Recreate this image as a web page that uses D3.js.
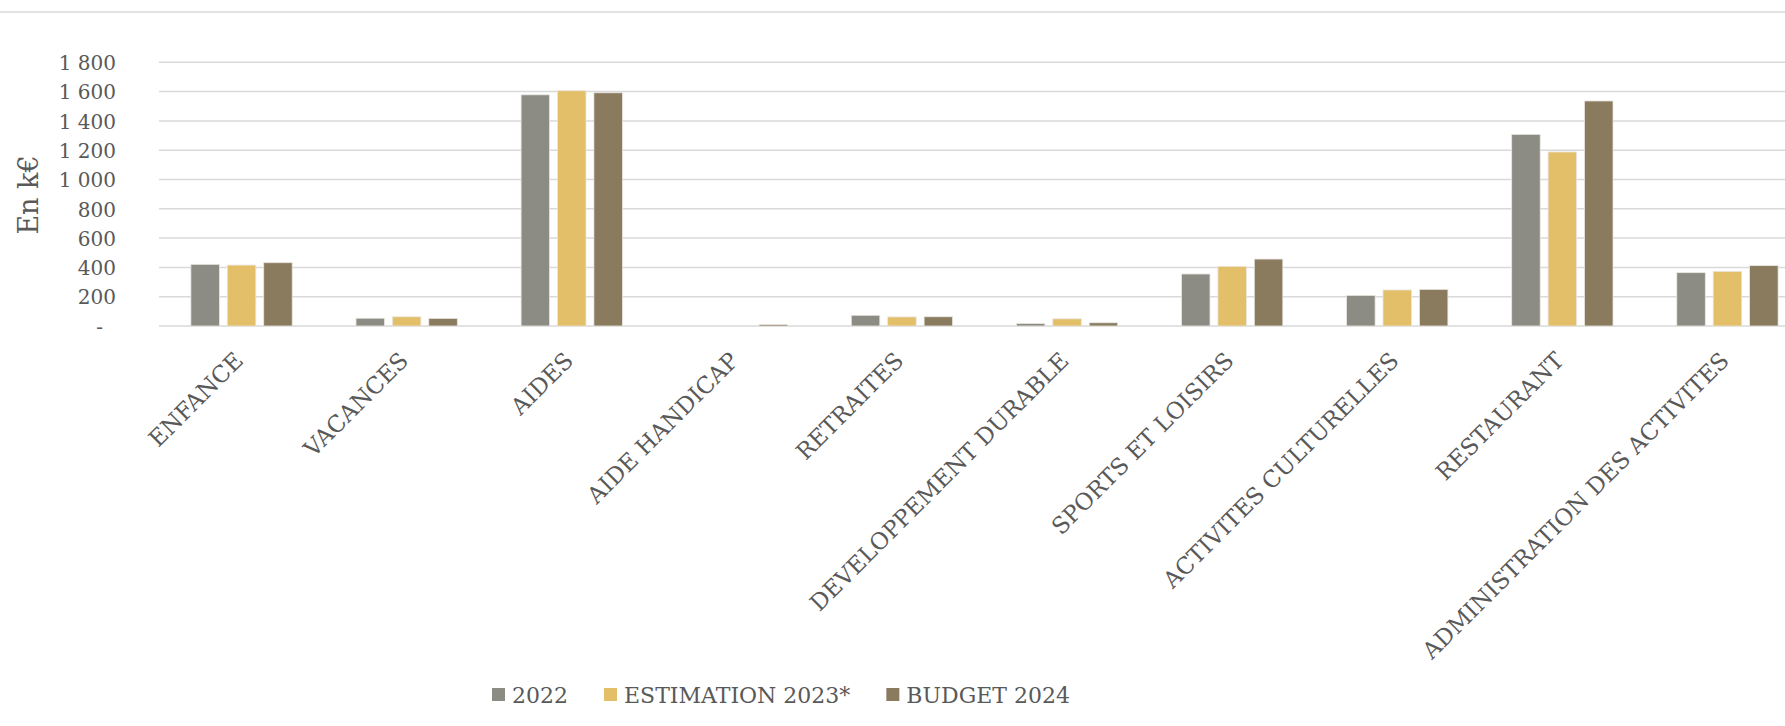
<!DOCTYPE html>
<html><head><meta charset="utf-8">
<script src="https://cdn.jsdelivr.net/npm/d3@7"></script>
<style>
html,body{margin:0;padding:0;background:#fff;overflow:hidden;}
text{font-family:"DejaVu Serif",serif;fill:#595959;}
</style></head>
<body>
<svg id="chart" width="1785" height="726"></svg>
<script>
const categories = ["ENFANCE","VACANCES","AIDES","AIDE HANDICAP","RETRAITES","DEVELOPPEMENT DURABLE","SPORTS ET LOISIRS","ACTIVITES CULTURELLES","RESTAURANT","ADMINISTRATION DES ACTIVITES"];
const seriesNames = ["2022","ESTIMATION 2023*","BUDGET 2024"];
const values2022 = [421, 53, 1578, 0, 73, 17, 355, 209, 1308, 364];
const valuesEst2023 = [416, 63, 1606, 0, 62, 49, 407, 246, 1188, 373];
const valuesBudget2024 = [432, 52, 1592, 10, 63, 22, 457, 250, 1536, 412];
const yTicks = [0,200,400,600,800,1000,1200,1400,1600,1800];
const colors = ["#8c8c84","#e4bf6a","#8a7b5f"];
const yAxisTitle = "En k€";

(function(){
const svg = d3.select("#chart");
const W = 1785;
const pLeft = 159, pRight = 1810, pTop = 62.3, pBottom = 326;

svg.append("line").attr("x1",0).attr("x2",W).attr("y1",12).attr("y2",12)
  .attr("stroke","#d9d9d9").attr("stroke-width",1.5);

const x0 = d3.scaleBand().domain(categories).range([pLeft,pRight]).padding(0);
const x1 = d3.scaleBand().domain(seriesNames).range([0,x0.bandwidth()])
  .paddingInner(0.217).paddingOuter(0.876);
const y = d3.scaleLinear().domain([0,1800]).range([pBottom,pTop]);

const fmt = v => v===0 ? "-" : d3.format(",")(v).replace(/,/g," ");

svg.append("g").selectAll("line").data(yTicks).join("line")
  .attr("x1",pLeft).attr("x2",pRight)
  .attr("y1",d=>y(d)).attr("y2",d=>y(d))
  .attr("stroke","#d9d9d9").attr("stroke-width",1.5);

const yAxis = d3.axisLeft(y).tickValues(yTicks).tickFormat(fmt).tickSize(0).tickPadding(0);
const gy = svg.append("g").attr("transform",`translate(116,0)`).call(yAxis);
gy.select(".domain").remove();
gy.selectAll("text").attr("font-family","DejaVu Serif").attr("font-size",20).attr("fill","#595959")
  .attr("dy","0.36em").attr("x",d=>d===0?-13:0);

svg.append("text").attr("transform",`translate(37.5,195) rotate(-90)`)
  .attr("text-anchor","middle").attr("font-size",27).text(yAxisTitle);

const data = categories.map((c,i)=>({cat:c, vals:[values2022[i],valuesEst2023[i],valuesBudget2024[i]]}));
const groups = svg.append("g").selectAll("g").data(data).join("g")
  .attr("transform",d=>`translate(${x0(d.cat)},0)`);
groups.selectAll("rect").data(d=>d.vals.map((v,j)=>({s:seriesNames[j],v,j}))).join("rect")
  .attr("x",d=>x1(d.s)).attr("width",x1.bandwidth())
  .attr("y",d=>y(d.v)).attr("height",d=>y(0)-y(d.v))
  .attr("fill",d=>colors[d.j])
  .attr("stroke","#e8e6e0").attr("stroke-width",0.8);

const xAxis = d3.axisBottom(x0).tickSize(0).tickPadding(0);
const gx = svg.append("g").attr("transform",`translate(0,${pBottom})`).call(xAxis);
gx.select(".domain").remove();
gx.selectAll("text").attr("font-family","DejaVu Serif").attr("font-size",23).attr("fill","#595959")
  .attr("text-anchor","end").attr("dy",null).attr("y",null)
  .attr("transform","translate(3,36) rotate(-45)");

const leg = svg.append("g");
let lx = 492;
seriesNames.forEach((s,i)=>{
  leg.append("rect").attr("x",lx).attr("y",688).attr("width",13).attr("height",13).attr("fill",colors[i]);
  const t = leg.append("text").attr("x",lx+20).attr("y",702.5).attr("font-size",22).text(s);
  lx += 20 + t.node().getComputedTextLength() + 36;
});
})();
</script>
</body></html>
